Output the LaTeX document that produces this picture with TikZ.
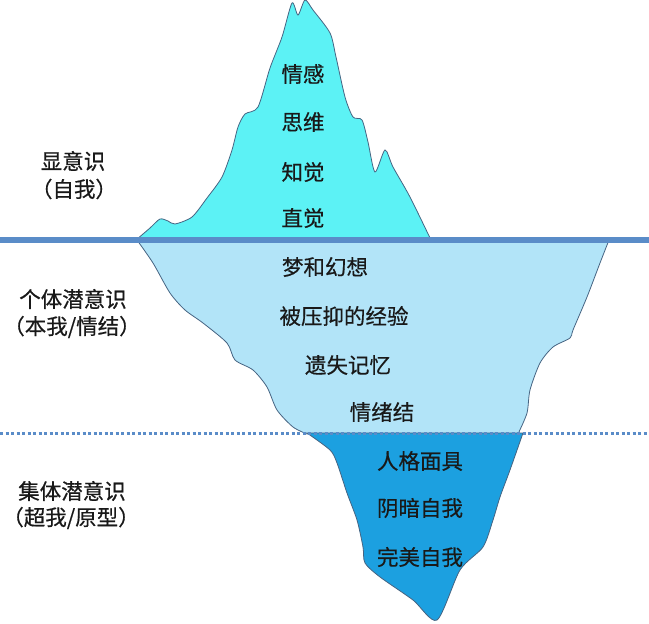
\documentclass[tikz,border=0pt]{standalone}
\usepackage{fontspec}
\setmainfont{Noto Sans CJK SC}[FakeBold=0.5]
\definecolor{tipblue}{RGB}{92,242,245}
\definecolor{midblue}{RGB}{178,228,248}
\definecolor{deepblue}{RGB}{28,160,224}
\definecolor{lineblue}{RGB}{90,140,200}
\definecolor{edgegray}{RGB}{70,100,130}

\begin{document}
\begin{tikzpicture}[x=1pt,y=-1pt,font=\fontsize{21.5}{25}\selectfont]

      \useasboundingbox (0,0) rectangle (649,624);

      \begin{scope}[draw=edgegray,line width=0.8pt]
        \draw[fill=tipblue] plot[smooth,tension=0.45] coordinates {(136,240) (150,228) (160,219) (168,221) (175,224) (192,217) (207,198) (222,177) (232,150) (238,127) (245,114) (258,107) (270,68) (282,37) (292,3) (298,15) (305,0) (313,10) (330,33) (336,57) (345,97) (353,117) (362,120) (368,142) (375,172) (385,150) (393,167) (410,197) (431,240)} -- cycle;
        \draw[fill=midblue] plot[smooth,tension=0.45] coordinates {(137,240) (153,263) (170,293) (185,310) (203,323) (227,343) (235,360) (253,370) (267,387) (277,410) (293,427) (307,434)} -- plot[smooth,tension=0.45] coordinates {(518,434) (527,413) (530,390) (540,363) (553,347) (570,338) (573,330) (587,297) (600,263) (609,240)} -- cycle;
        \draw[fill=deepblue] plot[smooth,tension=0.45] coordinates {(307,433) (330,450) (337,463) (347,493) (357,520) (363,547) (365,563) (380,577) (413,600) (437,620) (460,570) (483,547) (493,520) (500,497) (510,470) (523,433)} -- cycle;
      \end{scope}

      \coordinate (w1) at (0,240);
      \coordinate (w2) at (649,240);
      \coordinate (d1) at (0,433);
      \coordinate (d2) at (649,433);
      \draw[lineblue,line width=6pt] (w1) -- (w2);
      \draw[lineblue,line width=3pt,dash pattern=on 3pt off 2.5pt] (d1) -- (d2);

      \begin{scope}[every node/.style={inner sep=0pt,text=black!90}]
        \node (c1) at (303,74) {情感};
        \node (c2) at (303,122) {思维};
        \node (c3) at (303,172) {知觉};
        \node (c4) at (303,218) {直觉};
        \node (p1) at (325,267) {梦和幻想};
        \node (p2) at (344,316) {被压抑的经验};
        \node (p3) at (348,365) {遗失记忆};
        \node (p4) at (382,412) {情绪结};
        \node (k1) at (420,461) {人格面具};
        \node (k2) at (420,508) {阴暗自我};
        \node (k3) at (420,557) {完美自我};
      \end{scope}

      \begin{scope}[every node/.style={inner sep=0pt,text=black!90}]
        \node (l1) at (73,161) {显意识};
        \node (l2) at (74,189) {（自我）};
        \node (l3) at (73,299) {个体潜意识};
        \node (l4) at (72,327) {（本我/情结）};
        \node (l5) at (72,491) {集体潜意识};
        \node (l6) at (71,518) {（超我/原型）};
      \end{scope}

    \end{tikzpicture}
\end{document}
